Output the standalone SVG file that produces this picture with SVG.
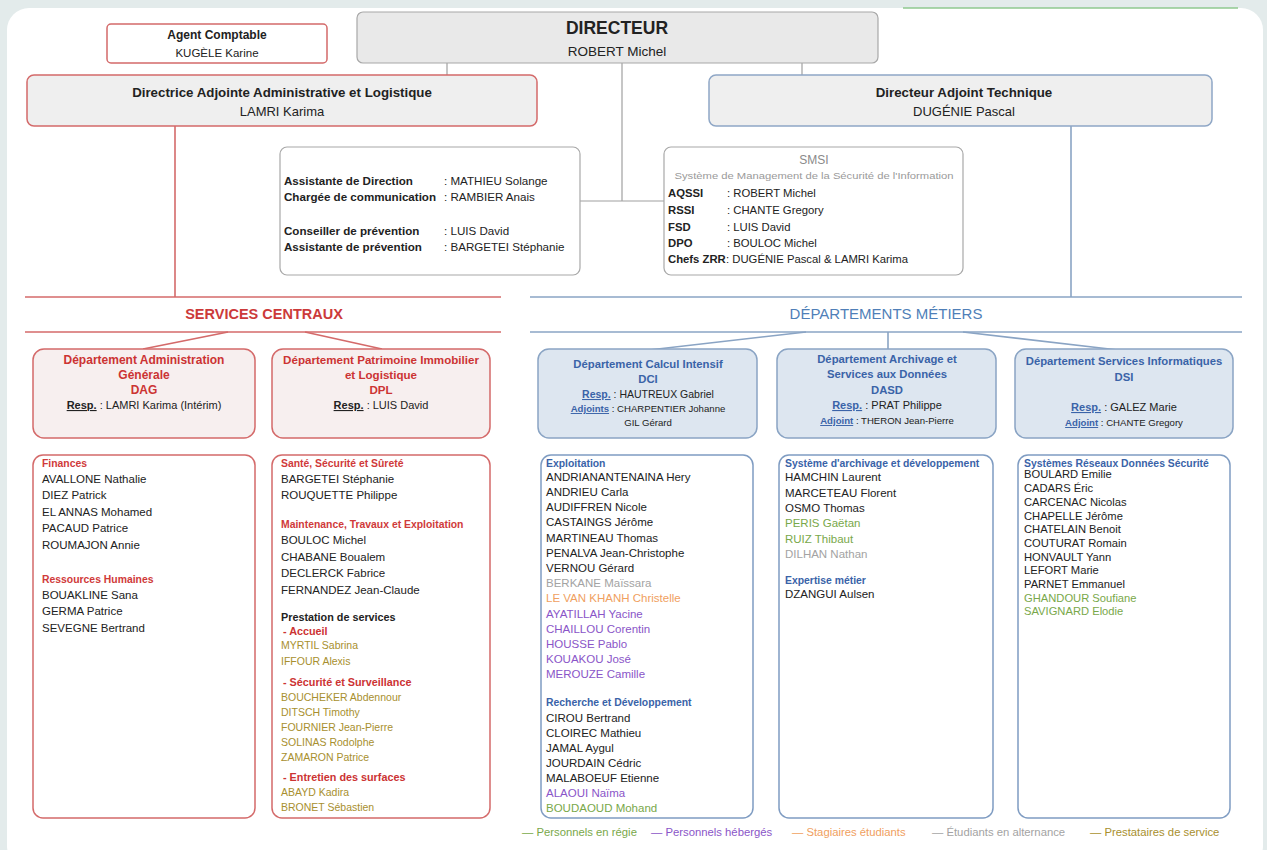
<svg xmlns="http://www.w3.org/2000/svg" width="1267" height="850" viewBox="0 0 1267 850">
<style>
text{font-family:"Liberation Sans",Arial,sans-serif;fill:#222}
.b{font-weight:bold}
.c{text-anchor:middle}
.n{font-size:11.5px}
.m{font-size:11.2px}
.s{font-size:10.5px}
.hr{font-size:10.4px;font-weight:bold;fill:#d03a3a}
.hb{font-size:10.4px;font-weight:bold;fill:#3a63a8}
.red{fill:#cc3333}
.blue{fill:#3a63a8}
.green{fill:#79a84a}
.purple{fill:#8a55c8}
.orange{fill:#f0a060}
.gray{fill:#a3a3a3}
.olive{fill:#a88f2e}
.u{text-decoration:underline}
.rbox{fill:#fff;stroke:#d46a6a;stroke-width:1.5}
.bbox{fill:#fff;stroke:#7f9cc2;stroke-width:1.5}
.rdept{fill:#f7efef;stroke:#d46a6a;stroke-width:1.5}
.bdept{fill:#dde6f0;stroke:#8aa4c4;stroke-width:1.5}
.gbox{fill:#fff;stroke:#a8a8a8;stroke-width:1.2}
.rl{stroke:#d46a6a;stroke-width:1.6;fill:none}
.bl{stroke:#8aa4c4;stroke-width:1.6;fill:none}
.gl{stroke:#a0a0a0;stroke-width:1.2;fill:none}
.lg{font-size:11.3px}
</style>
<rect x="0" y="0" width="1267" height="850" fill="#e3ebeb"/>
<rect x="7" y="8" width="1256" height="860" rx="22" fill="#ffffff"/>
<path d="M903,8 H1238" stroke="#8fc98f" stroke-width="1.5" fill="none"/>

<g id="connectors">
  <line class="gl" x1="447" y1="63" x2="447" y2="75"/>
  <line class="gl" x1="802" y1="63" x2="802" y2="75"/>
  <line class="gl" x1="622" y1="63" x2="622" y2="201"/>
  <line class="gl" x1="580" y1="201" x2="664" y2="201"/>
  <line class="rl" x1="175" y1="126" x2="175" y2="297"/>
  <line class="bl" x1="1071" y1="126" x2="1071" y2="297"/>
  <line class="rl" x1="25" y1="297" x2="501" y2="297"/>
  <line class="rl" x1="25" y1="332" x2="501" y2="332"/>
  <line class="bl" x1="530" y1="297" x2="1242" y2="297"/>
  <line class="bl" x1="530" y1="332" x2="1242" y2="332"/>
  <line class="rl" x1="228" y1="332" x2="143" y2="349"/>
  <line class="rl" x1="305" y1="332" x2="382" y2="349"/>
  <line class="bl" x1="806" y1="332" x2="649" y2="350"/>
  <line class="bl" x1="888" y1="332" x2="888" y2="350"/>
  <line class="bl" x1="963" y1="332" x2="1118" y2="350"/>
</g>

<g id="agent-comptable">
  <rect x="107" y="24" width="220" height="39" rx="4" fill="#fff" stroke="#d46a6a" stroke-width="1.5"/>
  <text class="c b" x="217" y="39" font-size="12">Agent Comptable</text>
  <text class="c" x="217" y="57" font-size="11.5">KUGÈLE Karine</text>
</g>

<g id="directeur">
  <rect x="357" y="12" width="521" height="51" rx="6" fill="#e9e9e9" stroke="#a8a8a8" stroke-width="1.2"/>
  <text class="c b" x="617" y="34" font-size="17.5">DIRECTEUR</text>
  <text class="c" x="617" y="56" font-size="13.5">ROBERT Michel</text>
</g>

<g id="directrice-adjointe">
  <rect x="27" y="75" width="510" height="51" rx="7" fill="#efefef" stroke="#d46a6a" stroke-width="1.5"/>
  <text class="c b" x="282" y="97" font-size="13.3">Directrice Adjointe Administrative et Logistique</text>
  <text class="c" x="282" y="116" font-size="13">LAMRI Karima</text>
</g>

<g id="directeur-adjoint-technique">
  <rect x="709" y="75" width="503" height="51" rx="7" fill="#efefef" stroke="#8fa7c6" stroke-width="1.5"/>
  <text class="c b" x="964" y="97" font-size="13.3">Directeur Adjoint Technique</text>
  <text class="c" x="964" y="116" font-size="13">DUGÉNIE Pascal</text>
</g>

<g id="assistants">
  <rect class="gbox" x="280" y="147" width="300" height="128" rx="7"/>
  <text class="b" x="284" y="185" font-size="11.6">Assistante de Direction</text>
  <text x="444" y="185" font-size="11.6">: MATHIEU Solange</text>
  <text class="b" x="284" y="201" font-size="11.6">Chargée de communication</text>
  <text x="444" y="201" font-size="11.6">: RAMBIER Anais</text>
  <text class="b" x="284" y="235" font-size="11.6">Conseiller de prévention</text>
  <text x="444" y="235" font-size="11.6">: LUIS David</text>
  <text class="b" x="284" y="251" font-size="11.6">Assistante de prévention</text>
  <text x="444" y="251" font-size="11.6">: BARGETEI Stéphanie</text>
</g>

<g id="smsi">
  <rect class="gbox" x="664" y="147" width="299" height="128" rx="7"/>
  <text class="c" x="814" y="164" font-size="12" style="fill:#8a8a8a">SMSI</text>
  <text class="c" x="814" y="179" font-size="9.5" textLength="279" lengthAdjust="spacingAndGlyphs" style="fill:#9a9a9a">Système de Management de la Sécurité de l'Information</text>
  <text class="b" x="668" y="197" font-size="11.3">AQSSI</text>
  <text x="727" y="197" font-size="11.3">: ROBERT Michel</text>
  <text class="b" x="668" y="214" font-size="11.3">RSSI</text>
  <text x="727" y="214" font-size="11.3">: CHANTE Gregory</text>
  <text class="b" x="668" y="231" font-size="11.3">FSD</text>
  <text x="727" y="231" font-size="11.3">: LUIS David</text>
  <text class="b" x="668" y="247" font-size="11.3">DPO</text>
  <text x="727" y="247" font-size="11.3">: BOULOC Michel</text>
  <text class="b" x="668" y="263" font-size="11.3">Chefs ZRR</text>
  <text x="726" y="263" font-size="11.3">: DUGÉNIE Pascal &amp; LAMRI Karima</text>
</g>

<g id="services-centraux">
  <text class="c b" x="264" y="319" font-size="14.5" style="fill:#cc3a3a">SERVICES CENTRAUX</text>
</g>

<g id="departements-metiers">
  <text class="c" x="886" y="319" font-size="15" style="fill:#4f7fb8">DÉPARTEMENTS MÉTIERS</text>
</g>

<g id="dag">
  <rect class="rdept" x="33" y="349" width="222" height="89" rx="11"/>
  <text class="c b red" x="144" y="364" font-size="12">Département Administration</text>
  <text class="c b red" x="144" y="379" font-size="12">Générale</text>
  <text class="c b red" x="144" y="394" font-size="12">DAG</text>
  <text class="c" x="144" y="409" font-size="11"><tspan class="b u">Resp.</tspan> : LAMRI Karima (Intérim)</text>
</g>

<g id="dpl">
  <rect class="rdept" x="272" y="349" width="218" height="89" rx="11"/>
  <text class="c b red" x="381" y="364" font-size="11.6">Département Patrimoine Immobilier</text>
  <text class="c b red" x="381" y="379" font-size="11.6">et Logistique</text>
  <text class="c b red" x="381" y="394" font-size="11.6">DPL</text>
  <text class="c" x="381" y="409" font-size="11"><tspan class="b u">Resp.</tspan> : LUIS David</text>
</g>

<g id="dci">
  <rect class="bdept" x="538" y="349" width="219" height="89" rx="11"/>
  <text class="c b blue" x="648" y="368" font-size="11.3">Département Calcul Intensif</text>
  <text class="c b blue" x="648" y="383" font-size="11.3">DCI</text>
  <text class="c" x="648" y="398" font-size="10.5"><tspan class="b u blue">Resp.</tspan> : HAUTREUX Gabriel</text>
  <text class="c" x="648" y="412" font-size="9.6"><tspan class="b u blue">Adjoints</tspan> : CHARPENTIER Johanne</text>
  <text class="c" x="648" y="426" font-size="9.6">GIL Gérard</text>
</g>

<g id="dasd">
  <rect class="bdept" x="777" y="349" width="219" height="89" rx="11"/>
  <text class="c b blue" x="887" y="363" font-size="11.3">Département Archivage et</text>
  <text class="c b blue" x="887" y="378" font-size="11.3">Services aux Données</text>
  <text class="c b blue" x="887" y="394" font-size="11.3">DASD</text>
  <text class="c" x="887" y="409" font-size="11"><tspan class="b u blue">Resp.</tspan> : PRAT Philippe</text>
  <text class="c" x="887" y="424" font-size="9.6"><tspan class="b u blue">Adjoint</tspan> : THERON Jean-Pierre</text>
</g>

<g id="dsi">
  <rect class="bdept" x="1015" y="349" width="218" height="89" rx="11"/>
  <text class="c b blue" x="1124" y="365" font-size="11.3">Département Services Informatiques</text>
  <text class="c b blue" x="1124" y="381" font-size="11.3">DSI</text>
  <text class="c" x="1124" y="411" font-size="11"><tspan class="b u blue">Resp.</tspan> : GALEZ Marie</text>
  <text class="c" x="1124" y="426" font-size="9.6"><tspan class="b u blue">Adjoint</tspan> : CHANTE Gregory</text>
</g>

<g id="dag-staff">
  <rect class="rbox" x="33" y="455" width="222" height="363" rx="10"/>
  <text class="hr" x="42" y="467">Finances</text>
  <text class="n" x="42" y="483">AVALLONE Nathalie</text>
  <text class="n" x="42" y="499">DIEZ Patrick</text>
  <text class="n" x="42" y="516">EL ANNAS Mohamed</text>
  <text class="n" x="42" y="532">PACAUD Patrice</text>
  <text class="n" x="42" y="549">ROUMAJON Annie</text>
  <text class="hr" x="42" y="583">Ressources Humaines</text>
  <text class="n" x="42" y="599">BOUAKLINE Sana</text>
  <text class="n" x="42" y="615">GERMA Patrice</text>
  <text class="n" x="42" y="632">SEVEGNE Bertrand</text>
</g>

<g id="dpl-staff">
  <rect class="rbox" x="272" y="455" width="218" height="363" rx="10"/>
  <text class="hr" x="281" y="467">Santé, Sécurité et Sûreté</text>
  <text class="n" x="281" y="483">BARGETEI Stéphanie</text>
  <text class="n" x="281" y="499">ROUQUETTE Philippe</text>
  <text class="hr" x="281" y="528">Maintenance, Travaux et Exploitation</text>
  <text class="n" x="281" y="544">BOULOC Michel</text>
  <text class="n" x="281" y="561">CHABANE Boualem</text>
  <text class="n" x="281" y="577">DECLERCK Fabrice</text>
  <text class="n" x="281" y="594">FERNANDEZ Jean-Claude</text>
  <text class="b" x="281" y="621" font-size="10.8">Prestation de services</text>
  <text class="b red" x="283" y="635" font-size="10.8">- Accueil</text>
  <text class="s olive" x="281" y="649">MYRTIL Sabrina</text>
  <text class="s olive" x="281" y="665">IFFOUR Alexis</text>
  <text class="b red" x="283" y="686" font-size="10.8">- Sécurité et Surveillance</text>
  <text class="s olive" x="281" y="701">BOUCHEKER Abdennour</text>
  <text class="s olive" x="281" y="716">DITSCH Timothy</text>
  <text class="s olive" x="281" y="731">FOURNIER Jean-Pierre</text>
  <text class="s olive" x="281" y="746">SOLINAS Rodolphe</text>
  <text class="s olive" x="281" y="761">ZAMARON Patrice</text>
  <text class="b red" x="283" y="781" font-size="10.8">- Entretien des surfaces</text>
  <text class="s olive" x="281" y="796">ABAYD Kadira</text>
  <text class="s olive" x="281" y="811">BRONET Sébastien</text>
</g>

<g id="dci-staff">
  <rect class="bbox" x="541" y="455" width="212" height="363" rx="10"/>
  <text class="hb" x="546" y="467">Exploitation</text>
  <text class="n" x="546" y="481">ANDRIANANTENAINA Hery</text>
  <text class="n" x="546" y="496">ANDRIEU Carla</text>
  <text class="n" x="546" y="511">AUDIFFREN Nicole</text>
  <text class="n" x="546" y="526">CASTAINGS Jérôme</text>
  <text class="n" x="546" y="542">MARTINEAU Thomas</text>
  <text class="n" x="546" y="557">PENALVA Jean-Christophe</text>
  <text class="n" x="546" y="572">VERNOU Gérard</text>
  <text class="n gray" x="546" y="587">BERKANE Maïssara</text>
  <text class="n orange" x="546" y="602">LE VAN KHANH Christelle</text>
  <text class="n purple" x="546" y="618">AYATILLAH Yacine</text>
  <text class="n purple" x="546" y="633">CHAILLOU Corentin</text>
  <text class="n purple" x="546" y="648">HOUSSE Pablo</text>
  <text class="n purple" x="546" y="663">KOUAKOU José</text>
  <text class="n purple" x="546" y="678">MEROUZE Camille</text>
  <text class="hb" x="546" y="706">Recherche et Développement</text>
  <text class="n" x="546" y="722">CIROU Bertrand</text>
  <text class="n" x="546" y="737">CLOIREC Mathieu</text>
  <text class="n" x="546" y="752">JAMAL Aygul</text>
  <text class="n" x="546" y="767">JOURDAIN Cédric</text>
  <text class="n" x="546" y="782">MALABOEUF Etienne</text>
  <text class="n purple" x="546" y="797">ALAOUI Naïma</text>
  <text class="n green" x="546" y="812">BOUDAOUD Mohand</text>
</g>

<g id="dasd-staff">
  <rect class="bbox" x="779" y="455" width="214" height="363" rx="10"/>
  <text class="hb" x="785" y="467">Système d'archivage et développement</text>
  <text class="n" x="785" y="481">HAMCHIN Laurent</text>
  <text class="n" x="785" y="497">MARCETEAU Florent</text>
  <text class="n" x="785" y="512">OSMO Thomas</text>
  <text class="n green" x="785" y="527">PERIS Gaëtan</text>
  <text class="n green" x="785" y="543">RUIZ Thibaut</text>
  <text class="n gray" x="785" y="558">DILHAN Nathan</text>
  <text class="hb" x="785" y="584">Expertise métier</text>
  <text class="n" x="785" y="598">DZANGUI Aulsen</text>
</g>

<g id="dsi-staff">
  <rect class="bbox" x="1018" y="455" width="212" height="363" rx="10"/>
  <text class="hb" x="1024" y="467">Systèmes Réseaux Données Sécurité</text>
  <text class="m" x="1024" y="478">BOULARD Emilie</text>
  <text class="m" x="1024" y="492">CADARS Éric</text>
  <text class="m" x="1024" y="506">CARCENAC Nicolas</text>
  <text class="m" x="1024" y="520">CHAPELLE Jérôme</text>
  <text class="m" x="1024" y="533">CHATELAIN Benoit</text>
  <text class="m" x="1024" y="547">COUTURAT Romain</text>
  <text class="m" x="1024" y="561">HONVAULT Yann</text>
  <text class="m" x="1024" y="574">LEFORT Marie</text>
  <text class="m" x="1024" y="588">PARNET Emmanuel</text>
  <text class="m green" x="1024" y="602">GHANDOUR Soufiane</text>
  <text class="m green" x="1024" y="615">SAVIGNARD Elodie</text>
</g>

<g id="legend">
  <text x="522" y="836" class="lg green">— Personnels en régie</text>
  <text x="651" y="836" class="lg purple">— Personnels hébergés</text>
  <text x="792" y="836" class="lg orange">— Stagiaires étudiants</text>
  <text x="932" y="836" class="lg gray">— Étudiants en alternance</text>
  <text x="1090" y="836" class="lg olive">— Prestataires de service</text>
</g>
</svg>
